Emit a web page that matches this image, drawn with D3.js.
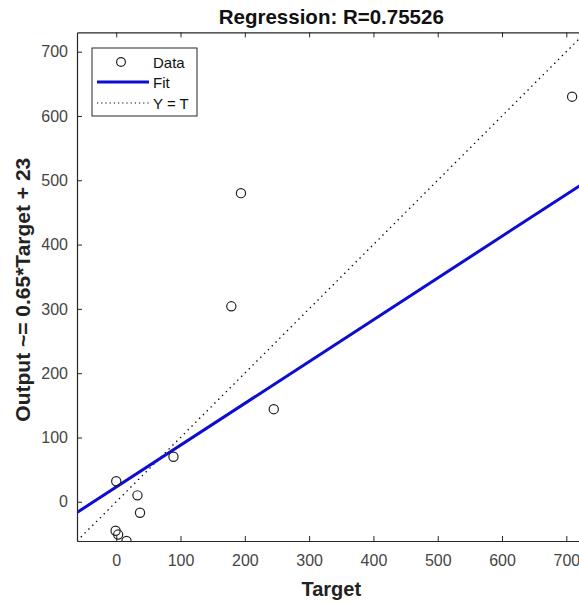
<!DOCTYPE html>
<html>
<head>
<meta charset="utf-8">
<script src="https://cdn.jsdelivr.net/npm/d3@7"></script>
<style>
  html, body { margin: 0; padding: 0; background: #fff; }
  svg { display: block; font-family: "Liberation Sans", Arial, sans-serif; }
</style>
</head>
<body>
<svg id="chart" width="579" height="603"></svg>
<script>
// ---- data ----
const targets = [0, 33, 37, -1, 3, 16, 89, 179, 194, 245, 709];
const outputs = [32, 10, -17, -45, -51, -61, 70, 304, 480, 144, 630];
const fitSlope = 0.65;
const fitIntercept = 23;
const axisLimits = [-61, 730];
const xTicks = [0, 100, 200, 300, 400, 500, 600, 700];
const yTicks = [0, 100, 200, 300, 400, 500, 600, 700];
const titleText = "Regression: R=0.75526";
const xLabelText = "Target";
const yLabelText = "Output ~= 0.65*Target + 23";
const legendLabels = ["Data", "Fit", "Y = T"];

(function () {
// ---- layout ----
const svg = d3.select("#chart");
const pLeft = 77, pBottom = 541, pxPerUnit = 0.643;
const pRight = pLeft + (axisLimits[1] - axisLimits[0]) * pxPerUnit;
const pTop = pBottom - (axisLimits[1] - axisLimits[0]) * pxPerUnit;

const x = d3.scaleLinear().domain(axisLimits).range([pLeft, pRight]);
const y = d3.scaleLinear().domain(axisLimits).range([pBottom, pTop]);

const axisColor = "#262626";
const tickTextColor = "#454545";
const blue = "#0c0cd2";

svg.append("defs").append("clipPath").attr("id", "clip")
  .append("rect").attr("x", pLeft).attr("y", pTop)
  .attr("width", pRight - pLeft).attr("height", pBottom - pTop);

const plot = svg.append("g").attr("clip-path", "url(#clip)");

// identity line Y = T
plot.append("line")
  .attr("x1", x(axisLimits[0])).attr("y1", y(axisLimits[0]))
  .attr("x2", x(axisLimits[1])).attr("y2", y(axisLimits[1]))
  .attr("stroke", "#000").attr("stroke-width", 1.3)
  .attr("stroke-dasharray", "1.4,4");

// fit line
plot.append("line")
  .attr("x1", x(axisLimits[0])).attr("y1", y(fitSlope * axisLimits[0] + fitIntercept))
  .attr("x2", x(axisLimits[1])).attr("y2", y(fitSlope * axisLimits[1] + fitIntercept))
  .attr("stroke", blue).attr("stroke-width", 3);

// data points
plot.selectAll("circle.pt").data(targets.map((t, i) => [t, outputs[i]]))
  .enter().append("circle").attr("class", "pt")
  .attr("cx", d => x(d[0])).attr("cy", d => y(d[1]))
  .attr("r", 4.6).attr("fill", "none")
  .attr("stroke", "#222").attr("stroke-width", 1.2);

// axes
const tickLen = 5;
const gx = svg.append("g").attr("transform", `translate(0,${pBottom})`)
  .call(d3.axisBottom(x).tickValues(xTicks).tickSizeInner(-tickLen).tickSizeOuter(0).tickPadding(14));
const gxTop = svg.append("g").attr("transform", `translate(0,${pTop})`)
  .call(d3.axisTop(x).tickValues(xTicks).tickSizeInner(-tickLen).tickSizeOuter(0).tickFormat(""));
const gy = svg.append("g").attr("transform", `translate(${pLeft},0)`)
  .call(d3.axisLeft(y).tickValues(yTicks).tickSizeInner(-tickLen).tickSizeOuter(0).tickPadding(9));
const gyRight = svg.append("g").attr("transform", `translate(${pRight},0)`)
  .call(d3.axisRight(y).tickValues(yTicks).tickSizeInner(-tickLen).tickSizeOuter(0).tickFormat(""));

[gx, gxTop, gy, gyRight].forEach(g => {
  g.select(".domain").attr("stroke", axisColor).attr("stroke-width", 1.2);
  g.selectAll(".tick line").attr("stroke", axisColor).attr("stroke-width", 1);
  g.selectAll(".tick text").attr("fill", tickTextColor)
    .style("font-size", "16px").style("font-family", "'Liberation Sans', Arial, sans-serif");
});

// title
svg.append("text")
  .attr("x", (pLeft + pRight) / 2).attr("y", 24)
  .attr("text-anchor", "middle")
  .style("font-size", "20.5px").style("font-weight", "bold").attr("fill", "#111")
  .text(titleText);

// x label
svg.append("text")
  .attr("x", (pLeft + pRight) / 2).attr("y", 596)
  .attr("text-anchor", "middle")
  .style("font-size", "20px").style("font-weight", "bold").attr("fill", "#222")
  .text(xLabelText);

// y label
svg.append("text")
  .attr("transform", `translate(30,${(pTop + pBottom) / 2 + 3}) rotate(-90)`)
  .attr("text-anchor", "middle")
  .style("font-size", "21px").style("font-weight", "bold").attr("fill", "#222")
  .text(yLabelText);

// legend
const lg = svg.append("g");
const lx = 92, ly = 48, lw = 105, lh = 68;
lg.append("rect").attr("x", lx).attr("y", ly).attr("width", lw).attr("height", lh)
  .attr("fill", "#fff").attr("stroke", axisColor).attr("stroke-width", 1);
const rowY = [62, 82, 103];
lg.append("circle").attr("cx", 121).attr("cy", rowY[0]).attr("r", 4.4)
  .attr("fill", "none").attr("stroke", "#222").attr("stroke-width", 1.2);
lg.append("line").attr("x1", 97).attr("x2", 149).attr("y1", rowY[1]).attr("y2", rowY[1])
  .attr("stroke", blue).attr("stroke-width", 3);
lg.append("line").attr("x1", 97).attr("x2", 149).attr("y1", rowY[2]).attr("y2", rowY[2])
  .attr("stroke", "#000").attr("stroke-width", 1.2).attr("stroke-dasharray", "1.2,3");
lg.selectAll("text.lt").data(legendLabels).enter().append("text").attr("class", "lt")
  .attr("x", 153).attr("y", (d, i) => rowY[i] + 5.5)
  .style("font-size", "15px").attr("fill", "#111")
  .text(d => d);
})();
</script>
</body>
</html>
